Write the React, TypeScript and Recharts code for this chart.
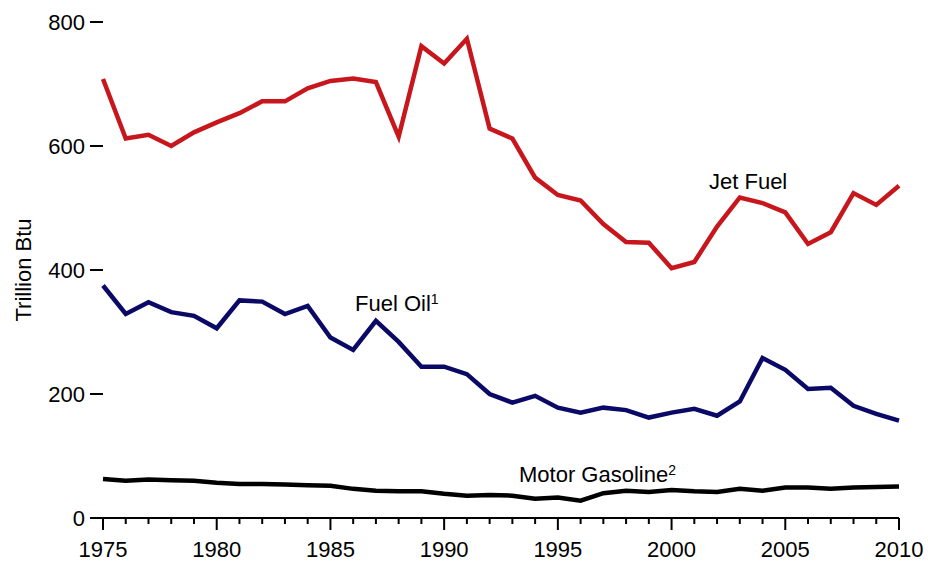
import React from "react";
import { LineChart, Line, XAxis, YAxis } from "recharts";

const FONT = '"Liberation Sans", Arial, Helvetica, sans-serif';

const years = [
  1975, 1976, 1977, 1978, 1979, 1980, 1981, 1982, 1983, 1984,
  1985, 1986, 1987, 1988, 1989, 1990, 1991, 1992, 1993, 1994,
  1995, 1996, 1997, 1998, 1999, 2000, 2001, 2002, 2003, 2004,
  2005, 2006, 2007, 2008, 2009, 2010,
];

// trillion Btu
const jetFuel = [
  708, 612, 618, 600, 622, 638, 653, 672, 672, 693,
  705, 709, 703, 615, 761, 733, 773, 628, 612, 549,
  521, 512, 474, 445, 444, 403, 413, 470, 517, 508,
  493, 442, 461, 524, 505, 536,
];

const fuelOil = [
  375, 329, 348, 332, 326, 306, 351, 349, 329, 342,
  291, 271, 318, 284, 244, 244, 232, 200, 186, 197,
  178, 170, 178, 174, 162, 170, 176, 165, 188, 258,
  239, 208, 210, 181, 168, 157,
];

const motorGasoline = [
  63, 60, 62, 61, 60, 57, 55, 55, 54, 53,
  52, 47, 44, 43, 43, 39, 36, 37, 36, 31,
  33, 28, 40, 44, 42, 45, 43, 42, 47, 44,
  49, 49, 47, 49, 50, 51,
];

const yTicks = [0, 200, 400, 600, 800];

const data = years.map((year, i) => ({
  year,
  jet: jetFuel[i],
  oil: fuelOil[i],
  gas: motorGasoline[i],
}));

// every year gets a tick, every 5th a longer one with a label
function YearTick(props: any) {
  const { x, y, payload } = props;
  const major = payload.value % 5 === 0;
  return (
    <g>
      <line x1={x} x2={x} y1={y} y2={y + (major ? 12 : 6)} stroke="#000" strokeWidth={2} />
      {major && (
        <text x={x} y={y + 38.5} textAnchor="middle" fontSize={22} fontFamily={FONT} fill="#000">
          {payload.value}
        </text>
      )}
    </g>
  );
}

export default function App() {
  return (
    <div style={{ position: "absolute", left: 0, top: 0 }}>
      <LineChart
        width={928}
        height={561}
        data={data}
        margin={{ top: 22, right: 29, left: 0, bottom: 0 }}
      >
        <XAxis
          dataKey="year"
          type="number"
          domain={[1975, 2010]}
          ticks={years}
          interval={0}
          height={43}
          tickSize={0}
          tickMargin={0}
          tickLine={false}
          axisLine={{ stroke: "#000", strokeWidth: 2 }}
          tick={<YearTick />}
        />
        <YAxis
          domain={[0, 800]}
          ticks={yTicks}
          width={103}
          axisLine={false}
          tickSize={13}
          tickMargin={5}
          tickLine={{ stroke: "#000", strokeWidth: 2 }}
          tick={{ fill: "#000", fontSize: 22, fontFamily: FONT }}
        />
        <Line
          dataKey="jet"
          stroke="#C8161D"
          strokeWidth={4.5}
          dot={false}
          isAnimationActive={false}
        />
        <Line
          dataKey="oil"
          stroke="#0A0A66"
          strokeWidth={4.5}
          dot={false}
          isAnimationActive={false}
        />
        <Line
          dataKey="gas"
          stroke="#000"
          strokeWidth={4.5}
          dot={false}
          isAnimationActive={false}
        />
        <text
          transform="translate(31,270) rotate(-90)"
          textAnchor="middle"
          fontSize={22}
          fontFamily={FONT}
          fill="#000"
        >
          Trillion Btu
        </text>
        <text x={709} y={189} fontSize={22} fontFamily={FONT} fill="#000">
          Jet Fuel
        </text>
        <text x={355} y={311} fontSize={22} fontFamily={FONT} fill="#000">
          Fuel Oil
          <tspan fontSize={14} dy={-7}>1</tspan>
        </text>
        <text x={519} y={482} fontSize={22} fontFamily={FONT} fill="#000">
          Motor Gasoline
          <tspan fontSize={14} dy={-7}>2</tspan>
        </text>
      </LineChart>
    </div>
  );
}
